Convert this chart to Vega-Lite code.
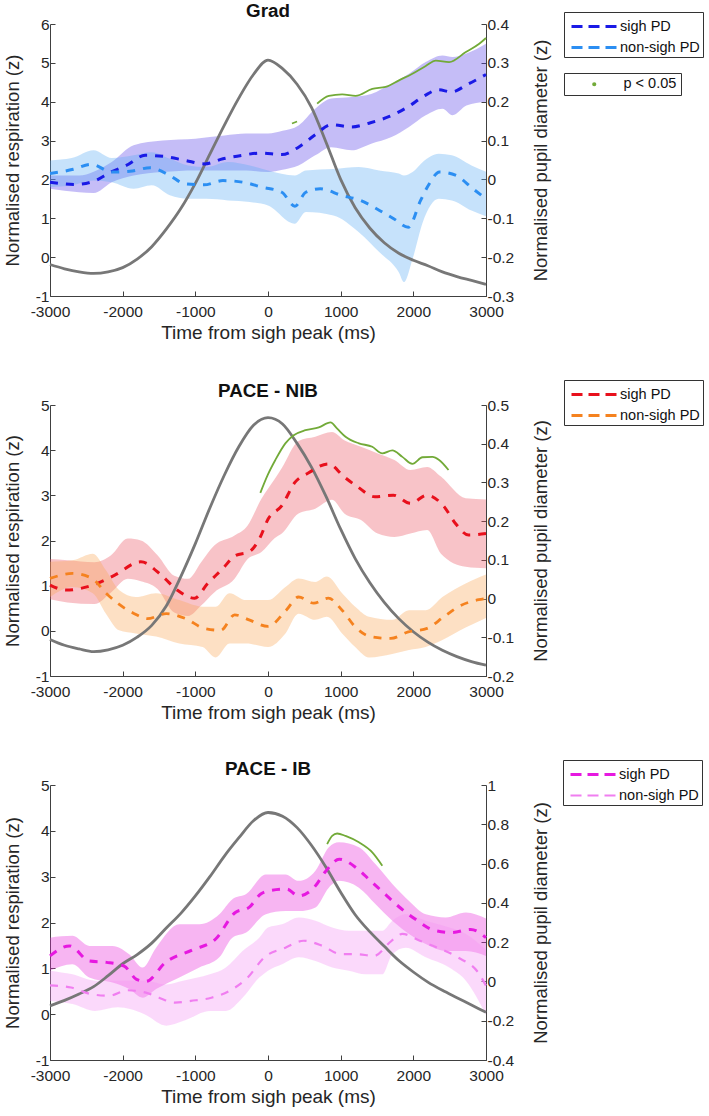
{
"$schema": "https://vega.github.io/schema/vega-lite/v6.json",
"padding": {"left": 3, "top": 1, "right": 0, "bottom": 0},
"spacing": 36,
"background": "white",
"datasets": {
"p1": [
{"s":"resp","t":-3000,"v":-0.19},{"s":"resp","t":-2800,"v":-0.30},{"s":"resp","t":-2600,"v":-0.38},{"s":"resp","t":-2400,"v":-0.42},{"s":"resp","t":-2200,"v":-0.38},{"s":"resp","t":-2000,"v":-0.27},{"s":"resp","t":-1800,"v":-0.05},{"s":"resp","t":-1600,"v":0.27},{"s":"resp","t":-1400,"v":0.72},{"s":"resp","t":-1200,"v":1.25},{"s":"resp","t":-1000,"v":1.9},{"s":"resp","t":-800,"v":2.65},{"s":"resp","t":-600,"v":3.4},{"s":"resp","t":-400,"v":4.1},{"s":"resp","t":-200,"v":4.7},{"s":"resp","t":0,"v":5.07},{"s":"resp","t":200,"v":4.85},{"s":"resp","t":400,"v":4.45},{"s":"resp","t":600,"v":3.85},{"s":"resp","t":800,"v":2.95},{"s":"resp","t":1000,"v":2.0},{"s":"resp","t":1200,"v":1.27},{"s":"resp","t":1400,"v":0.75},{"s":"resp","t":1600,"v":0.37},{"s":"resp","t":1800,"v":0.1},{"s":"resp","t":2000,"v":-0.08},{"s":"resp","t":2200,"v":-0.22},{"s":"resp","t":2400,"v":-0.38},{"s":"resp","t":2600,"v":-0.5},{"s":"resp","t":2800,"v":-0.6},{"s":"resp","t":3000,"v":-0.7},
{"s":"sigh PD","t":-3000,"v":-0.007},{"s":"sigh PD","t":-2650,"v":-0.013},{"s":"sigh PD","t":-2400,"v":-0.005},{"s":"sigh PD","t":-2160,"v":0.019},{"s":"sigh PD","t":-1950,"v":0.036},{"s":"sigh PD","t":-1690,"v":0.062},{"s":"sigh PD","t":-1420,"v":0.059},{"s":"sigh PD","t":-1140,"v":0.049},{"s":"sigh PD","t":-870,"v":0.040},{"s":"sigh PD","t":-620,"v":0.053},{"s":"sigh PD","t":-360,"v":0.062},{"s":"sigh PD","t":-100,"v":0.068},{"s":"sigh PD","t":190,"v":0.064},{"s":"sigh PD","t":420,"v":0.083},{"s":"sigh PD","t":650,"v":0.115},{"s":"sigh PD","t":870,"v":0.141},{"s":"sigh PD","t":1150,"v":0.135},{"s":"sigh PD","t":1410,"v":0.146},{"s":"sigh PD","t":1670,"v":0.162},{"s":"sigh PD","t":1920,"v":0.186},{"s":"sigh PD","t":2150,"v":0.215},{"s":"sigh PD","t":2350,"v":0.231},{"s":"sigh PD","t":2520,"v":0.225},{"s":"sigh PD","t":2750,"v":0.245},{"s":"sigh PD","t":3000,"v":0.27},
{"s":"non-sigh PD","t":-3000,"v":0.015},{"s":"non-sigh PD","t":-2680,"v":0.026},{"s":"non-sigh PD","t":-2430,"v":0.039},{"s":"non-sigh PD","t":-2150,"v":0.019},{"s":"non-sigh PD","t":-1900,"v":0.021},{"s":"non-sigh PD","t":-1620,"v":0.030},{"s":"non-sigh PD","t":-1350,"v":0.010},{"s":"non-sigh PD","t":-1150,"v":-0.011},{"s":"non-sigh PD","t":-880,"v":-0.014},{"s":"non-sigh PD","t":-620,"v":-0.003},{"s":"non-sigh PD","t":-350,"v":-0.007},{"s":"non-sigh PD","t":-80,"v":-0.020},{"s":"non-sigh PD","t":190,"v":-0.033},{"s":"non-sigh PD","t":370,"v":-0.069},{"s":"non-sigh PD","t":520,"v":-0.033},{"s":"non-sigh PD","t":720,"v":-0.024},{"s":"non-sigh PD","t":1010,"v":-0.041},{"s":"non-sigh PD","t":1270,"v":-0.054},{"s":"non-sigh PD","t":1500,"v":-0.076},{"s":"non-sigh PD","t":1730,"v":-0.101},{"s":"non-sigh PD","t":1930,"v":-0.123},{"s":"non-sigh PD","t":2100,"v":-0.054},{"s":"non-sigh PD","t":2220,"v":-0.011},{"s":"non-sigh PD","t":2360,"v":0.019},{"s":"non-sigh PD","t":2590,"v":0.010},{"s":"non-sigh PD","t":2820,"v":-0.024},{"s":"non-sigh PD","t":3000,"v":-0.05},
{"s":"sighband","t":-3000,"lo":-0.024,"hi":0.010},{"s":"sighband","t":-2600,"lo":-0.033,"hi":0.010},{"s":"sighband","t":-2400,"lo":-0.035,"hi":0.020},{"s":"sighband","t":-2150,"lo":-0.007,"hi":0.045},{"s":"sighband","t":-1850,"lo":0.010,"hi":0.088},{"s":"sighband","t":-1450,"lo":0.019,"hi":0.100},{"s":"sighband","t":-1000,"lo":0.023,"hi":0.105},{"s":"sighband","t":-600,"lo":0.023,"hi":0.113},{"s":"sighband","t":-300,"lo":0.023,"hi":0.118},{"s":"sighband","t":0,"lo":0.019,"hi":0.118},{"s":"sighband","t":200,"lo":0.025,"hi":0.125},{"s":"sighband","t":420,"lo":0.036,"hi":0.139},{"s":"sighband","t":650,"lo":0.062,"hi":0.182},{"s":"sighband","t":870,"lo":0.083,"hi":0.208},{"s":"sighband","t":1150,"lo":0.075,"hi":0.212},{"s":"sighband","t":1420,"lo":0.092,"hi":0.220},{"s":"sighband","t":1700,"lo":0.109,"hi":0.246},{"s":"sighband","t":1940,"lo":0.135,"hi":0.272},{"s":"sighband","t":2170,"lo":0.165,"hi":0.302},{"s":"sighband","t":2400,"lo":0.182,"hi":0.319},{"s":"sighband","t":2540,"lo":0.165,"hi":0.315},{"s":"sighband","t":2730,"lo":0.190,"hi":0.324},{"s":"sighband","t":3000,"lo":0.200,"hi":0.349},
{"s":"nonsighband","t":-3000,"lo":-0.020,"hi":0.049},{"s":"nonsighband","t":-2700,"lo":-0.015,"hi":0.055},{"s":"nonsighband","t":-2400,"lo":-0.003,"hi":0.075},{"s":"nonsighband","t":-2150,"lo":-0.007,"hi":0.055},{"s":"nonsighband","t":-1850,"lo":-0.024,"hi":0.062},{"s":"nonsighband","t":-1600,"lo":-0.015,"hi":0.070},{"s":"nonsighband","t":-1350,"lo":-0.041,"hi":0.053},{"s":"nonsighband","t":-1100,"lo":-0.050,"hi":0.036},{"s":"nonsighband","t":-850,"lo":-0.050,"hi":0.032},{"s":"nonsighband","t":-550,"lo":-0.054,"hi":0.045},{"s":"nonsighband","t":-250,"lo":-0.058,"hi":0.036},{"s":"nonsighband","t":0,"lo":-0.067,"hi":0.023},{"s":"nonsighband","t":370,"lo":-0.114,"hi":0.010},{"s":"nonsighband","t":520,"lo":-0.084,"hi":0.023},{"s":"nonsighband","t":900,"lo":-0.093,"hi":0.027},{"s":"nonsighband","t":1250,"lo":-0.136,"hi":0.032},{"s":"nonsighband","t":1530,"lo":-0.187,"hi":0.023},{"s":"nonsighband","t":1800,"lo":-0.239,"hi":0.015},{"s":"nonsighband","t":1870,"lo":-0.264,"hi":0.010},{"s":"nonsighband","t":1990,"lo":-0.204,"hi":0.019},{"s":"nonsighband","t":2130,"lo":-0.110,"hi":0.045},{"s":"nonsighband","t":2350,"lo":-0.050,"hi":0.066},{"s":"nonsighband","t":2530,"lo":-0.054,"hi":0.062},{"s":"nonsighband","t":2800,"lo":-0.080,"hi":0.036},{"s":"nonsighband","t":3000,"lo":-0.095,"hi":0.020},
{"s":"p < 0.05","g":"a","t":330,"v":0.144},{"s":"p < 0.05","g":"a","t":400,"v":0.149},
{"s":"p < 0.05","g":"b","t":676,"v":0.195},{"s":"p < 0.05","g":"b","t":837,"v":0.215},{"s":"p < 0.05","g":"b","t":1021,"v":0.219},{"s":"p < 0.05","g":"b","t":1205,"v":0.215},{"s":"p < 0.05","g":"b","t":1435,"v":0.233},{"s":"p < 0.05","g":"b","t":1619,"v":0.238},{"s":"p < 0.05","g":"b","t":1803,"v":0.255},{"s":"p < 0.05","g":"b","t":1987,"v":0.272},{"s":"p < 0.05","g":"b","t":2171,"v":0.292},{"s":"p < 0.05","g":"b","t":2309,"v":0.306},{"s":"p < 0.05","g":"b","t":2493,"v":0.302},{"s":"p < 0.05","g":"b","t":2723,"v":0.328},{"s":"p < 0.05","g":"b","t":2907,"v":0.349},{"s":"p < 0.05","g":"b","t":3000,"v":0.364}
],
"p2": [
{"s":"resp","t":-3000,"v":-0.19},{"s":"resp","t":-2800,"v":-0.32},{"s":"resp","t":-2600,"v":-0.40},{"s":"resp","t":-2400,"v":-0.46},{"s":"resp","t":-2200,"v":-0.42},{"s":"resp","t":-2000,"v":-0.32},{"s":"resp","t":-1800,"v":-0.14},{"s":"resp","t":-1600,"v":0.12},{"s":"resp","t":-1400,"v":0.55},{"s":"resp","t":-1200,"v":1.2},{"s":"resp","t":-1000,"v":1.93},{"s":"resp","t":-800,"v":2.72},{"s":"resp","t":-600,"v":3.45},{"s":"resp","t":-400,"v":4.08},{"s":"resp","t":-200,"v":4.55},{"s":"resp","t":0,"v":4.72},{"s":"resp","t":200,"v":4.58},{"s":"resp","t":400,"v":4.15},{"s":"resp","t":600,"v":3.62},{"s":"resp","t":800,"v":2.97},{"s":"resp","t":1000,"v":2.25},{"s":"resp","t":1200,"v":1.6},{"s":"resp","t":1400,"v":1.07},{"s":"resp","t":1600,"v":0.63},{"s":"resp","t":1800,"v":0.27},{"s":"resp","t":2000,"v":-0.02},{"s":"resp","t":2200,"v":-0.25},{"s":"resp","t":2400,"v":-0.43},{"s":"resp","t":2600,"v":-0.57},{"s":"resp","t":2800,"v":-0.68},{"s":"resp","t":3000,"v":-0.76},
{"s":"sigh PD","t":-3000,"v":0.035},{"s":"sigh PD","t":-2780,"v":0.022},{"s":"sigh PD","t":-2410,"v":0.035},{"s":"sigh PD","t":-2115,"v":0.060},{"s":"sigh PD","t":-1750,"v":0.095},{"s":"sigh PD","t":-1450,"v":0.057},{"s":"sigh PD","t":-1250,"v":0.022},{"s":"sigh PD","t":-1010,"v":0.001},{"s":"sigh PD","t":-830,"v":0.039},{"s":"sigh PD","t":-620,"v":0.078},{"s":"sigh PD","t":-460,"v":0.110},{"s":"sigh PD","t":-250,"v":0.122},{"s":"sigh PD","t":-106,"v":0.159},{"s":"sigh PD","t":0,"v":0.205},{"s":"sigh PD","t":190,"v":0.240},{"s":"sigh PD","t":370,"v":0.300},{"s":"sigh PD","t":560,"v":0.325},{"s":"sigh PD","t":830,"v":0.348},{"s":"sigh PD","t":1050,"v":0.314},{"s":"sigh PD","t":1230,"v":0.289},{"s":"sigh PD","t":1470,"v":0.263},{"s":"sigh PD","t":1725,"v":0.267},{"s":"sigh PD","t":1960,"v":0.246},{"s":"sigh PD","t":2190,"v":0.267},{"s":"sigh PD","t":2420,"v":0.238},{"s":"sigh PD","t":2580,"v":0.194},{"s":"sigh PD","t":2760,"v":0.164},{"s":"sigh PD","t":3000,"v":0.168},
{"s":"non-sigh PD","t":-3000,"v":0.052},{"s":"non-sigh PD","t":-2690,"v":0.065},{"s":"non-sigh PD","t":-2420,"v":0.052},{"s":"non-sigh PD","t":-2230,"v":0.014},{"s":"non-sigh PD","t":-2070,"v":-0.012},{"s":"non-sigh PD","t":-1840,"v":-0.039},{"s":"non-sigh PD","t":-1660,"v":-0.052},{"s":"non-sigh PD","t":-1400,"v":-0.039},{"s":"non-sigh PD","t":-1130,"v":-0.052},{"s":"non-sigh PD","t":-880,"v":-0.077},{"s":"non-sigh PD","t":-650,"v":-0.082},{"s":"non-sigh PD","t":-460,"v":-0.042},{"s":"non-sigh PD","t":-260,"v":-0.055},{"s":"non-sigh PD","t":0,"v":-0.072},{"s":"non-sigh PD","t":250,"v":-0.030},{"s":"non-sigh PD","t":420,"v":0.004},{"s":"non-sigh PD","t":630,"v":-0.012},{"s":"non-sigh PD","t":830,"v":0.001},{"s":"non-sigh PD","t":1020,"v":-0.030},{"s":"non-sigh PD","t":1200,"v":-0.073},{"s":"non-sigh PD","t":1410,"v":-0.098},{"s":"non-sigh PD","t":1690,"v":-0.103},{"s":"non-sigh PD","t":1930,"v":-0.086},{"s":"non-sigh PD","t":2190,"v":-0.077},{"s":"non-sigh PD","t":2420,"v":-0.047},{"s":"non-sigh PD","t":2620,"v":-0.021},{"s":"non-sigh PD","t":2900,"v":-0.003},{"s":"non-sigh PD","t":3000,"v":0.000},
{"s":"sighband","t":-3000,"lo":-0.002,"hi":0.102},{"s":"sighband","t":-2760,"lo":-0.010,"hi":0.099},{"s":"sighband","t":-2390,"lo":-0.014,"hi":0.094},{"s":"sighband","t":-2160,"lo":0.016,"hi":0.112},{"s":"sighband","t":-1930,"lo":0.051,"hi":0.155},{"s":"sighband","t":-1750,"lo":0.045,"hi":0.150},{"s":"sighband","t":-1520,"lo":0.025,"hi":0.112},{"s":"sighband","t":-1290,"lo":-0.036,"hi":0.059},{"s":"sighband","t":-1100,"lo":-0.045,"hi":0.051},{"s":"sighband","t":-920,"lo":-0.018,"hi":0.094},{"s":"sighband","t":-740,"lo":0.016,"hi":0.137},{"s":"sighband","t":-460,"lo":0.051,"hi":0.163},{"s":"sighband","t":-280,"lo":0.102,"hi":0.189},{"s":"sighband","t":-90,"lo":0.120,"hi":0.258},{"s":"sighband","t":90,"lo":0.156,"hi":0.308},{"s":"sighband","t":190,"lo":0.168,"hi":0.337},{"s":"sighband","t":420,"lo":0.220,"hi":0.407},{"s":"sighband","t":650,"lo":0.232,"hi":0.418},{"s":"sighband","t":880,"lo":0.255,"hi":0.430},{"s":"sighband","t":1050,"lo":0.220,"hi":0.409},{"s":"sighband","t":1280,"lo":0.203,"hi":0.392},{"s":"sighband","t":1510,"lo":0.168,"hi":0.375},{"s":"sighband","t":1740,"lo":0.159,"hi":0.358},{"s":"sighband","t":1960,"lo":0.168,"hi":0.332},{"s":"sighband","t":2190,"lo":0.177,"hi":0.340},{"s":"sighband","t":2380,"lo":0.116,"hi":0.315},{"s":"sighband","t":2720,"lo":0.082,"hi":0.259},{"s":"sighband","t":3000,"lo":0.078,"hi":0.256},
{"s":"nonsighband","t":-3000,"lo":0.004,"hi":0.095},{"s":"nonsighband","t":-2690,"lo":0.030,"hi":0.099},{"s":"nonsighband","t":-2410,"lo":0.014,"hi":0.116},{"s":"nonsighband","t":-2230,"lo":-0.039,"hi":0.073},{"s":"nonsighband","t":-2050,"lo":-0.082,"hi":0.022},{"s":"nonsighband","t":-1820,"lo":-0.090,"hi":0.004},{"s":"nonsighband","t":-1540,"lo":-0.098,"hi":0.014},{"s":"nonsighband","t":-1220,"lo":-0.116,"hi":-0.004},{"s":"nonsighband","t":-900,"lo":-0.125,"hi":-0.021},{"s":"nonsighband","t":-720,"lo":-0.152,"hi":-0.021},{"s":"nonsighband","t":-530,"lo":-0.116,"hi":0.014},{"s":"nonsighband","t":-300,"lo":-0.116,"hi":-0.004},{"s":"nonsighband","t":0,"lo":-0.125,"hi":-0.004},{"s":"nonsighband","t":240,"lo":-0.090,"hi":0.030},{"s":"nonsighband","t":420,"lo":-0.039,"hi":0.052},{"s":"nonsighband","t":650,"lo":-0.055,"hi":0.043},{"s":"nonsighband","t":810,"lo":-0.047,"hi":0.057},{"s":"nonsighband","t":1020,"lo":-0.090,"hi":0.014},{"s":"nonsighband","t":1200,"lo":-0.125,"hi":-0.021},{"s":"nonsighband","t":1390,"lo":-0.152,"hi":-0.047},{"s":"nonsighband","t":1710,"lo":-0.143,"hi":-0.055},{"s":"nonsighband","t":1940,"lo":-0.133,"hi":-0.030},{"s":"nonsighband","t":2170,"lo":-0.125,"hi":-0.030},{"s":"nonsighband","t":2400,"lo":-0.107,"hi":0.004},{"s":"nonsighband","t":2720,"lo":-0.075,"hi":0.039},{"s":"nonsighband","t":3000,"lo":-0.050,"hi":0.062},
{"s":"p < 0.05","g":"a","t":-106,"v":0.273},{"s":"p < 0.05","g":"a","t":-5,"v":0.319},{"s":"p < 0.05","g":"a","t":101,"v":0.358},{"s":"p < 0.05","g":"a","t":239,"v":0.401},{"s":"p < 0.05","g":"a","t":354,"v":0.422},{"s":"p < 0.05","g":"a","t":515,"v":0.435},{"s":"p < 0.05","g":"a","t":699,"v":0.442},{"s":"p < 0.05","g":"a","t":860,"v":0.455},{"s":"p < 0.05","g":"a","t":952,"v":0.439},{"s":"p < 0.05","g":"a","t":1067,"v":0.418},{"s":"p < 0.05","g":"a","t":1251,"v":0.401},{"s":"p < 0.05","g":"a","t":1435,"v":0.392},{"s":"p < 0.05","g":"a","t":1573,"v":0.375},{"s":"p < 0.05","g":"a","t":1711,"v":0.383},{"s":"p < 0.05","g":"a","t":1849,"v":0.366},{"s":"p < 0.05","g":"a","t":1987,"v":0.348},{"s":"p < 0.05","g":"a","t":2125,"v":0.365},{"s":"p < 0.05","g":"a","t":2263,"v":0.366},{"s":"p < 0.05","g":"a","t":2355,"v":0.358},{"s":"p < 0.05","g":"a","t":2484,"v":0.332}
],
"p3": [
{"s":"resp","t":-3000,"v":0.18},{"s":"resp","t":-2800,"v":0.30},{"s":"resp","t":-2600,"v":0.44},{"s":"resp","t":-2400,"v":0.60},{"s":"resp","t":-2200,"v":0.84},{"s":"resp","t":-2000,"v":1.1},{"s":"resp","t":-1800,"v":1.3},{"s":"resp","t":-1600,"v":1.55},{"s":"resp","t":-1400,"v":1.88},{"s":"resp","t":-1200,"v":2.2},{"s":"resp","t":-1000,"v":2.58},{"s":"resp","t":-800,"v":3.0},{"s":"resp","t":-600,"v":3.45},{"s":"resp","t":-400,"v":3.85},{"s":"resp","t":-200,"v":4.22},{"s":"resp","t":0,"v":4.4},{"s":"resp","t":200,"v":4.32},{"s":"resp","t":400,"v":4.07},{"s":"resp","t":600,"v":3.68},{"s":"resp","t":800,"v":3.2},{"s":"resp","t":1000,"v":2.66},{"s":"resp","t":1200,"v":2.17},{"s":"resp","t":1400,"v":1.8},{"s":"resp","t":1600,"v":1.48},{"s":"resp","t":1800,"v":1.17},{"s":"resp","t":2000,"v":0.92},{"s":"resp","t":2200,"v":0.70},{"s":"resp","t":2400,"v":0.52},{"s":"resp","t":2600,"v":0.36},{"s":"resp","t":2800,"v":0.2},{"s":"resp","t":3000,"v":0.04},
{"s":"sigh PD","t":-3000,"v":0.130},{"s":"sigh PD","t":-2730,"v":0.181},{"s":"sigh PD","t":-2460,"v":0.104},{"s":"sigh PD","t":-2220,"v":0.097},{"s":"sigh PD","t":-1980,"v":0.078},{"s":"sigh PD","t":-1810,"v":0.011},{"s":"sigh PD","t":-1680,"v":0.000},{"s":"sigh PD","t":-1410,"v":0.097},{"s":"sigh PD","t":-1040,"v":0.160},{"s":"sigh PD","t":-720,"v":0.216},{"s":"sigh PD","t":-450,"v":0.351},{"s":"sigh PD","t":-260,"v":0.377},{"s":"sigh PD","t":-100,"v":0.445},{"s":"sigh PD","t":10,"v":0.461},{"s":"sigh PD","t":260,"v":0.470},{"s":"sigh PD","t":420,"v":0.435},{"s":"sigh PD","t":630,"v":0.477},{"s":"sigh PD","t":800,"v":0.564},{"s":"sigh PD","t":980,"v":0.622},{"s":"sigh PD","t":1210,"v":0.580},{"s":"sigh PD","t":1410,"v":0.512},{"s":"sigh PD","t":1610,"v":0.445},{"s":"sigh PD","t":1790,"v":0.384},{"s":"sigh PD","t":2030,"v":0.316},{"s":"sigh PD","t":2290,"v":0.260},{"s":"sigh PD","t":2530,"v":0.249},{"s":"sigh PD","t":2790,"v":0.265},{"s":"sigh PD","t":3000,"v":0.223},
{"s":"non-sigh PD","t":-3000,"v":-0.020},{"s":"non-sigh PD","t":-2710,"v":-0.031},{"s":"non-sigh PD","t":-2440,"v":-0.064},{"s":"non-sigh PD","t":-2190,"v":-0.073},{"s":"non-sigh PD","t":-1930,"v":-0.045},{"s":"non-sigh PD","t":-1680,"v":-0.057},{"s":"non-sigh PD","t":-1500,"v":-0.083},{"s":"non-sigh PD","t":-1280,"v":-0.108},{"s":"non-sigh PD","t":-1060,"v":-0.099},{"s":"non-sigh PD","t":-780,"v":-0.083},{"s":"non-sigh PD","t":-530,"v":-0.048},{"s":"non-sigh PD","t":-280,"v":0.020},{"s":"non-sigh PD","t":-50,"v":0.123},{"s":"non-sigh PD","t":240,"v":0.172},{"s":"non-sigh PD","t":490,"v":0.207},{"s":"non-sigh PD","t":750,"v":0.181},{"s":"non-sigh PD","t":1000,"v":0.139},{"s":"non-sigh PD","t":1210,"v":0.139},{"s":"non-sigh PD","t":1460,"v":0.130},{"s":"non-sigh PD","t":1700,"v":0.207},{"s":"non-sigh PD","t":1850,"v":0.242},{"s":"non-sigh PD","t":2090,"v":0.207},{"s":"non-sigh PD","t":2330,"v":0.172},{"s":"non-sigh PD","t":2610,"v":0.123},{"s":"non-sigh PD","t":2910,"v":0.036},{"s":"non-sigh PD","t":3000,"v":-0.022},
{"s":"sighband","t":-3000,"lo":0.055,"hi":0.223},{"s":"sighband","t":-2690,"lo":0.088,"hi":0.232},{"s":"sighband","t":-2460,"lo":0.020,"hi":0.181},{"s":"sighband","t":-2140,"lo":-0.006,"hi":0.181},{"s":"sighband","t":-1910,"lo":-0.039,"hi":0.139},{"s":"sighband","t":-1725,"lo":-0.083,"hi":0.071},{"s":"sighband","t":-1540,"lo":-0.039,"hi":0.172},{"s":"sighband","t":-1220,"lo":0.020,"hi":0.291},{"s":"sighband","t":-945,"lo":0.071,"hi":0.291},{"s":"sighband","t":-670,"lo":0.123,"hi":0.342},{"s":"sighband","t":-490,"lo":0.223,"hi":0.419},{"s":"sighband","t":-300,"lo":0.249,"hi":0.445},{"s":"sighband","t":-30,"lo":0.342,"hi":0.545},{"s":"sighband","t":239,"lo":0.358,"hi":0.545},{"s":"sighband","t":423,"lo":0.358,"hi":0.512},{"s":"sighband","t":653,"lo":0.377,"hi":0.564},{"s":"sighband","t":837,"lo":0.477,"hi":0.683},{"s":"sighband","t":975,"lo":0.512,"hi":0.708},{"s":"sighband","t":1251,"lo":0.477,"hi":0.683},{"s":"sighband","t":1481,"lo":0.393,"hi":0.596},{"s":"sighband","t":1711,"lo":0.309,"hi":0.496},{"s":"sighband","t":1941,"lo":0.242,"hi":0.410},{"s":"sighband","t":2171,"lo":0.190,"hi":0.342},{"s":"sighband","t":2447,"lo":0.155,"hi":0.326},{"s":"sighband","t":2723,"lo":0.155,"hi":0.351},{"s":"sighband","t":3000,"lo":0.130,"hi":0.320},
{"s":"nonsighband","t":-3000,"lo":-0.099,"hi":0.055},{"s":"nonsighband","t":-2690,"lo":-0.115,"hi":0.036},{"s":"nonsighband","t":-2380,"lo":-0.150,"hi":0.004},{"s":"nonsighband","t":-2070,"lo":-0.132,"hi":0.004},{"s":"nonsighband","t":-1700,"lo":-0.167,"hi":0.004},{"s":"nonsighband","t":-1400,"lo":-0.225,"hi":-0.015},{"s":"nonsighband","t":-1170,"lo":-0.202,"hi":0.004},{"s":"nonsighband","t":-800,"lo":-0.150,"hi":0.036},{"s":"nonsighband","t":-580,"lo":-0.150,"hi":0.071},{"s":"nonsighband","t":-350,"lo":-0.083,"hi":0.155},{"s":"nonsighband","t":-120,"lo":0.020,"hi":0.223},{"s":"nonsighband","t":0,"lo":0.055,"hi":0.274},{"s":"nonsighband","t":193,"lo":0.088,"hi":0.291},{"s":"nonsighband","t":423,"lo":0.123,"hi":0.326},{"s":"nonsighband","t":653,"lo":0.104,"hi":0.309},{"s":"nonsighband","t":884,"lo":0.071,"hi":0.274},{"s":"nonsighband","t":1114,"lo":0.055,"hi":0.258},{"s":"nonsighband","t":1344,"lo":0.036,"hi":0.258},{"s":"nonsighband","t":1573,"lo":0.036,"hi":0.258},{"s":"nonsighband","t":1711,"lo":0.139,"hi":0.309},{"s":"nonsighband","t":1895,"lo":0.172,"hi":0.342},{"s":"nonsighband","t":2171,"lo":0.123,"hi":0.309},{"s":"nonsighband","t":2494,"lo":0.071,"hi":0.274},{"s":"nonsighband","t":2723,"lo":0.004,"hi":0.242},{"s":"nonsighband","t":3000,"lo":-0.170,"hi":0.160},
{"s":"p < 0.05","g":"a","t":814,"v":0.699},{"s":"p < 0.05","g":"a","t":883,"v":0.741},{"s":"p < 0.05","g":"a","t":952,"v":0.753},{"s":"p < 0.05","g":"a","t":1067,"v":0.741},{"s":"p < 0.05","g":"a","t":1251,"v":0.708},{"s":"p < 0.05","g":"a","t":1435,"v":0.657},{"s":"p < 0.05","g":"a","t":1573,"v":0.589}
]
},
"vconcat": [
{
"title": {"text": "Grad", "offset": -9},
"width": 436, "height": 272,
"data": {"name": "p1"},
"encoding": {"x": {"field": "t", "type": "quantitative", "scale": {"domain": [-3000, 3000], "nice": false, "zero": false}, "axis": {"title": "Time from sigh peak (ms)", "values": [-3000, -2000, -1000, 0, 1000, 2000, 3000], "labelExpr": "'' + datum.value"}}},
"layer": [
{"transform": [{"filter": "datum.s === 'sighband' || datum.s === 'nonsighband'"}],
 "mark": {"type": "area", "fillOpacity": 0.35, "interpolate": "monotone"},
 "encoding": {
  "y": {"field": "lo", "type": "quantitative", "scale": {"domain": [-0.3, 0.4], "nice": false, "zero": false}, "axis": {"orient": "right", "title": "Normalised pupil diameter (z)", "values": [-0.3, -0.2, -0.1, 0, 0.1, 0.2, 0.3, 0.4], "labelExpr": "'' + datum.value", "titleAngle": 270, "titleBaseline": "top", "titlePadding": 18}},
  "y2": {"field": "hi"},
  "fill": {"field": "s", "type": "nominal", "scale": {"domain": ["sighband", "nonsighband"], "range": ["#5942e8", "#5cacf4"]}, "legend": null}}},
{"transform": [{"filter": "datum.s === 'resp'"}],
 "mark": {"type": "line", "stroke": "#777777", "strokeWidth": 2.8, "interpolate": "monotone"},
 "encoding": {"y": {"field": "v", "type": "quantitative", "scale": {"domain": [-1, 6], "nice": false, "zero": false}, "axis": {"orient": "left", "title": "Normalised respiration (z)", "values": [-1, 0, 1, 2, 3, 4, 5, 6], "labelExpr": "'' + datum.value", "titlePadding": 13}}}},
{"layer": [
 {"transform": [{"filter": "datum.s === 'sigh PD' || datum.s === 'non-sigh PD'"}],
  "mark": {"type": "line", "strokeDash": [8, 8], "interpolate": "monotone"},
  "encoding": {
   "y": {"field": "v", "type": "quantitative", "scale": {"domain": [-0.3, 0.4], "nice": false, "zero": false}, "axis": null},
   "color": {"field": "s", "type": "nominal", "scale": {"domain": ["sigh PD", "non-sigh PD"], "range": ["#1a1ae6", "#2b8ef2"]},
     "legend": {"title": null, "orient": "none", "legendX": 514, "legendY": -12, "symbolType": "M-1,0H3.7", "symbolSize": 400, "symbolStrokeWidth": 3, "symbolDash": [11, 6], "strokeColor": "#333333", "fillColor": "#ffffff", "padding": 3, "rowPadding": 3, "symbolOffset": 3, "labelOffset": 27}},
   "strokeWidth": {"field": "s", "type": "nominal", "scale": {"domain": ["sigh PD", "non-sigh PD"], "range": [3, 3]}, "legend": null}}},
 {"transform": [{"filter": "datum.s === 'p < 0.05'"}],
  "mark": {"type": "line", "strokeWidth": 1.8, "interpolate": "monotone"},
  "encoding": {
   "y": {"field": "v", "type": "quantitative", "scale": {"domain": [-0.3, 0.4], "nice": false, "zero": false}, "axis": null},
   "detail": {"field": "g"},
   "stroke": {"field": "s", "type": "nominal", "scale": {"domain": ["p < 0.05"], "range": ["#72aa38"]},
     "legend": {"title": null, "orient": "none", "legendX": 514, "legendY": 49, "symbolType": "circle", "symbolSize": 4, "symbolStrokeWidth": 2.2, "strokeColor": "#333333", "fillColor": "#ffffff", "padding": 4, "symbolOffset": 19, "labelOffset": 22}}}}
]}
],
"resolve": {"scale": {"y": "independent"}}
},
{
"title": {"text": "PACE - NIB", "offset": -21},
"width": 436, "height": 271,
"data": {"name": "p2"},
"encoding": {"x": {"field": "t", "type": "quantitative", "scale": {"domain": [-3000, 3000], "nice": false, "zero": false}, "axis": {"title": "Time from sigh peak (ms)", "values": [-3000, -2000, -1000, 0, 1000, 2000, 3000], "labelExpr": "'' + datum.value"}}},
"layer": [
{"transform": [{"filter": "datum.s === 'sighband' || datum.s === 'nonsighband'"}],
 "mark": {"type": "area", "fillOpacity": 0.35, "interpolate": "monotone"},
 "encoding": {
  "y": {"field": "lo", "type": "quantitative", "scale": {"domain": [-0.2, 0.5], "nice": false, "zero": false}, "axis": {"orient": "right", "title": "Normalised pupil diameter (z)", "values": [-0.2, -0.1, 0, 0.1, 0.2, 0.3, 0.4, 0.5], "labelExpr": "'' + datum.value", "titleAngle": 270, "titleBaseline": "top", "titlePadding": 18}},
  "y2": {"field": "hi"},
  "fill": {"field": "s", "type": "nominal", "scale": {"domain": ["sighband", "nonsighband"], "range": ["#eb5462", "#f9a656"]}, "legend": null}}},
{"transform": [{"filter": "datum.s === 'resp'"}],
 "mark": {"type": "line", "stroke": "#777777", "strokeWidth": 2.8, "interpolate": "monotone"},
 "encoding": {"y": {"field": "v", "type": "quantitative", "scale": {"domain": [-1, 5], "nice": false, "zero": false}, "axis": {"orient": "left", "title": "Normalised respiration (z)", "values": [-1, 0, 1, 2, 3, 4, 5], "labelExpr": "'' + datum.value", "titlePadding": 13}}}},
{"layer": [
 {"transform": [{"filter": "datum.s === 'sigh PD' || datum.s === 'non-sigh PD'"}],
  "mark": {"type": "line", "strokeDash": [8, 8], "interpolate": "monotone"},
  "encoding": {
   "y": {"field": "v", "type": "quantitative", "scale": {"domain": [-0.2, 0.5], "nice": false, "zero": false}, "axis": null},
   "color": {"field": "s", "type": "nominal", "scale": {"domain": ["sigh PD", "non-sigh PD"], "range": ["#e8101c", "#f5821f"]},
     "legend": {"title": null, "orient": "none", "legendX": 514, "legendY": -25, "symbolType": "M-1,0H3.7", "symbolSize": 400, "symbolStrokeWidth": 3, "symbolDash": [11, 6], "strokeColor": "#333333", "fillColor": "#ffffff", "padding": 3, "rowPadding": 3, "symbolOffset": 3, "labelOffset": 27}},
   "strokeWidth": {"field": "s", "type": "nominal", "scale": {"domain": ["sigh PD", "non-sigh PD"], "range": [3, 2.8]}, "legend": null}}},
 {"transform": [{"filter": "datum.s === 'p < 0.05'"}],
  "mark": {"type": "line", "strokeWidth": 1.8, "stroke": "#72aa38", "interpolate": "monotone"},
  "encoding": {
   "y": {"field": "v", "type": "quantitative", "scale": {"domain": [-0.2, 0.5], "nice": false, "zero": false}, "axis": null},
   "detail": {"field": "g"}}}
]}
],
"resolve": {"scale": {"y": "independent"}}
},
{
"title": {"text": "PACE - IB", "offset": -19},
"width": 436, "height": 275,
"data": {"name": "p3"},
"encoding": {"x": {"field": "t", "type": "quantitative", "scale": {"domain": [-3000, 3000], "nice": false, "zero": false}, "axis": {"title": "Time from sigh peak (ms)", "values": [-3000, -2000, -1000, 0, 1000, 2000, 3000], "labelExpr": "'' + datum.value"}}},
"layer": [
{"transform": [{"filter": "datum.s === 'sighband' || datum.s === 'nonsighband'"}],
 "mark": {"type": "area", "fillOpacity": 0.35, "interpolate": "monotone"},
 "encoding": {
  "y": {"field": "lo", "type": "quantitative", "scale": {"domain": [-0.4, 1], "nice": false, "zero": false}, "axis": {"orient": "right", "title": "Normalised pupil diameter (z)", "values": [-0.4, -0.2, 0, 0.2, 0.4, 0.6, 0.8, 1], "labelExpr": "'' + datum.value", "titleAngle": 270, "titleBaseline": "top", "titlePadding": 18}},
  "y2": {"field": "hi"},
  "fill": {"field": "s", "type": "nominal", "scale": {"domain": ["sighband", "nonsighband"], "range": ["#e82cda", "#f492f4"]}, "legend": null}}},
{"transform": [{"filter": "datum.s === 'resp'"}],
 "mark": {"type": "line", "stroke": "#777777", "strokeWidth": 2.8, "interpolate": "monotone"},
 "encoding": {"y": {"field": "v", "type": "quantitative", "scale": {"domain": [-1, 5], "nice": false, "zero": false}, "axis": {"orient": "left", "title": "Normalised respiration (z)", "values": [-1, 0, 1, 2, 3, 4, 5], "labelExpr": "'' + datum.value", "titlePadding": 13}}}},
{"layer": [
 {"transform": [{"filter": "datum.s === 'sigh PD' || datum.s === 'non-sigh PD'"}],
  "mark": {"type": "line", "strokeDash": [8, 8], "interpolate": "monotone"},
  "encoding": {
   "y": {"field": "v", "type": "quantitative", "scale": {"domain": [-0.4, 1], "nice": false, "zero": false}, "axis": null},
   "color": {"field": "s", "type": "nominal", "scale": {"domain": ["sigh PD", "non-sigh PD"], "range": ["#e619e0", "#f07ef0"]},
     "legend": {"title": null, "orient": "none", "legendX": 513, "legendY": -25, "symbolType": "M-1,0H3.7", "symbolSize": 400, "symbolStrokeWidth": 3, "symbolDash": [11, 6], "strokeColor": "#333333", "fillColor": "#ffffff", "padding": 3, "rowPadding": 3, "symbolOffset": 3, "labelOffset": 27}},
   "strokeWidth": {"field": "s", "type": "nominal", "scale": {"domain": ["sigh PD", "non-sigh PD"], "range": [3, 2.2]}, "legend": null}}},
 {"transform": [{"filter": "datum.s === 'p < 0.05'"}],
  "mark": {"type": "line", "strokeWidth": 1.8, "stroke": "#72aa38", "interpolate": "monotone"},
  "encoding": {
   "y": {"field": "v", "type": "quantitative", "scale": {"domain": [-0.4, 1], "nice": false, "zero": false}, "axis": null},
   "detail": {"field": "g"}}}
]}
],
"resolve": {"scale": {"y": "independent"}}
}
],
"resolve": {"scale": {"color": "independent", "fill": "independent", "stroke": "independent", "strokeWidth": "independent", "x": "independent", "y": "independent"}, "legend": {"color": "independent", "stroke": "independent"}},
"config": {
 "font": "Liberation Sans",
 "view": {"stroke": null},
 "axis": {"grid": false, "domainColor": "#404040", "domainWidth": 1, "tickColor": "#404040", "tickWidth": 1, "tickSize": -5, "labelColor": "#262626", "titleColor": "#262626", "labelFontSize": 15.5, "titleFontSize": 18.5, "titleFontWeight": "normal", "labelPadding": 6, "labelFlush": false, "labelOverlap": false, "labelFont": "Liberation Sans", "titleFont": "Liberation Sans"},
 "axisX": {"titlePadding": 4, "labelPadding": 13, "titleFontSize": 19},
 "axisY": {"titlePadding": 8},
 "title": {"fontSize": 18.8, "fontWeight": "bold", "color": "#111111", "frame": "group", "anchor": "middle", "font": "Liberation Sans"},
 "legend": {"labelFont": "Liberation Sans", "labelFontSize": 14.5, "labelColor": "#111111"}
}
}
